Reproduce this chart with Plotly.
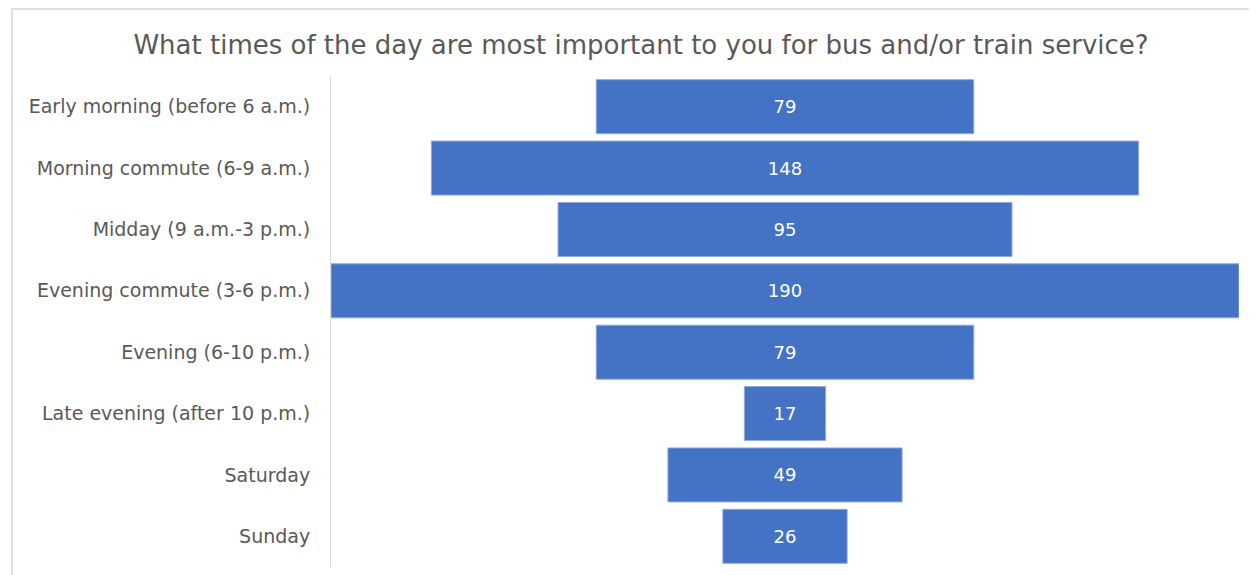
import plotly.graph_objects as go

# survey answers, top to bottom
periods = ["Early morning (before 6 a.m.)", "Morning commute (6-9 a.m.)", "Midday (9 a.m.-3 p.m.)",
           "Evening commute (3-6 p.m.)", "Evening (6-10 p.m.)", "Late evening (after 10 p.m.)",
           "Saturday", "Sunday"]
counts = [79, 148, 95, 190, 79, 17, 49, 26]

# page body has an 8px margin, so the figure is a bit smaller than the window
W, H = 1249, 567
FONT = "DejaVu Sans"

fig = go.Figure(go.Funnel(
    y=periods, x=counts,
    textinfo="value", textposition="inside",
    insidetextfont=dict(color="white", size=18, family=FONT),
    marker=dict(color="#4472C4", line=dict(color="#8FAADC", width=1)),
    connector=dict(visible=False),
    width=0.88,
))

fig.update_layout(
    width=W, height=H,
    paper_bgcolor="white", plot_bgcolor="white",
    margin=dict(l=323, r=18, t=68, b=8),
    title=dict(text="What times of the day are most important to you for bus and/or train service?",
               x=633 / W, xanchor="center", y=1 - 37 / H, yanchor="middle",
               font=dict(family=FONT, size=26, color="#595959")),
    showlegend=False,
)
fig.update_xaxes(visible=False, range=[-95, 95])
fig.update_yaxes(showline=True, linecolor="#D9D9D9", linewidth=1, ticks="", automargin=False,
                 range=[len(periods) - 0.5, -0.5],
                 tickfont=dict(family=FONT, size=19, color="#595959"), ticklabelstandoff=16)

# thin frame around the chart like the original
fig.add_shape(type="rect", xref="paper", yref="paper",
              x0=-319 / 908, x1=1 + 17 / 908, y0=-30 / 491, y1=1 + 67 / 491,
              line=dict(color="#E0E0E0", width=2))

fig.write_html("out.html")
